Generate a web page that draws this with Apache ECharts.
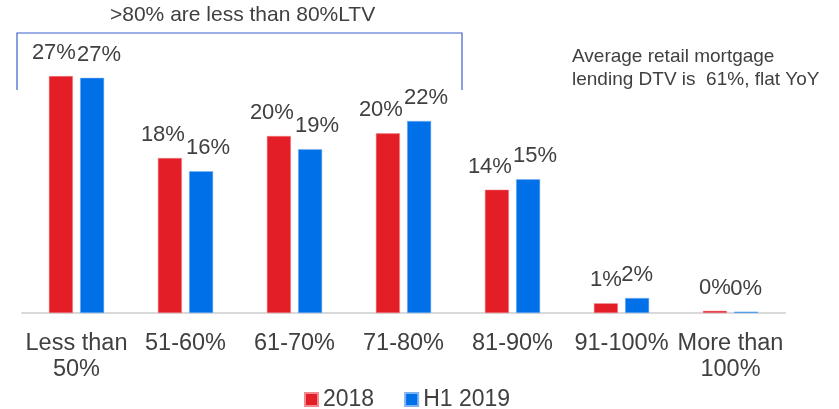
<!DOCTYPE html>
<html><head><meta charset="utf-8">
<script src="https://cdn.jsdelivr.net/npm/echarts@6/dist/echarts.min.js"></script>
<style>html,body{margin:0;padding:0;background:#fff}#c{width:839px;height:409px}</style>
</head><body><div id="c"></div>
<script>
const categories = ['Less than\n50%', '51-60%', '61-70%', '71-80%', '81-90%', '91-100%', 'More than\n100%'];
const series2018 = [26.9, 17.6, 20.1, 20.4, 14.0, 1.1, 0.25];
const seriesH12019 = [26.7, 16.1, 18.6, 21.8, 15.2, 1.7, 0.15];
const seriesNames = ['2018', 'H1 2019'];
const annotationText = '>80% are less than 80%LTV';
const noteText = 'Average retail mortgage\nlending DTV is  61%, flat YoY';

const FONT = '"Liberation Sans", Arial, sans-serif';
const TXT = '#404040';
const chart = echarts.init(document.getElementById('c'), null, {renderer: 'canvas'});

function items(vals, dx) {
  return vals.map(v => ({
    value: v,
    label: {offset: [Math.round(v) >= 10 ? dx : 0, 0]}
  }));
}

chart.setOption({
  animation: false,
  textStyle: {fontFamily: FONT},
  grid: {left: 22, right: 54, top: 40, bottom: 96},
  legend: {
    data: seriesNames, top: 383, left: 299,
    itemWidth: 13, itemHeight: 13, itemGap: 30,
    icon: 'rect',
    textStyle: {fontSize: 23, color: TXT, fontFamily: FONT}
  },
  xAxis: {
    type: 'category', data: categories,
    axisLine: {lineStyle: {color: '#d9d9d9', width: 2}},
    axisTick: {show: false},
    axisLabel: {fontSize: 23.5, color: TXT, lineHeight: 26, margin: 18, interval: 0, fontFamily: FONT}
  },
  yAxis: {type: 'value', min: 0, max: 31, show: false, splitLine: {show: false}},
  series: [
    {
      name: seriesNames[0], type: 'bar', data: items(series2018, -7),
      barWidth: 24, barGap: '30%',
      itemStyle: {color: '#e31e26', borderColor: '#f08a8e', borderWidth: 0.5},
      label: {show: true, position: 'top', distance: 12, fontSize: 22, color: TXT, fontFamily: FONT,
        formatter: p => Math.round(p.value) + '%'}
    },
    {
      name: seriesNames[1], type: 'bar', data: items(seriesH12019, 7),
      barWidth: 24, barGap: '30%',
      itemStyle: {color: '#0070e8', borderColor: '#7fb2f2', borderWidth: 0.5},
      label: {show: true, position: 'top', distance: 12, fontSize: 22, color: TXT, fontFamily: FONT,
        formatter: p => Math.round(p.value) + '%'}
    }
  ],
  graphic: [
    {type: 'polyline', shape: {points: [[17, 90], [17, 33], [462, 33], [462, 90]]},
     style: {stroke: '#3a5fcd', lineWidth: 1.2, fill: null}},
    {type: 'text', left: 110, top: 5,
     style: {text: annotationText, fontSize: 21, fill: TXT, fontFamily: FONT}},
    {type: 'text', left: 572, top: 45,
     style: {text: noteText, fontSize: 19, lineHeight: 23, fill: TXT, fontFamily: FONT}}
  ]
});
</script></body></html>
